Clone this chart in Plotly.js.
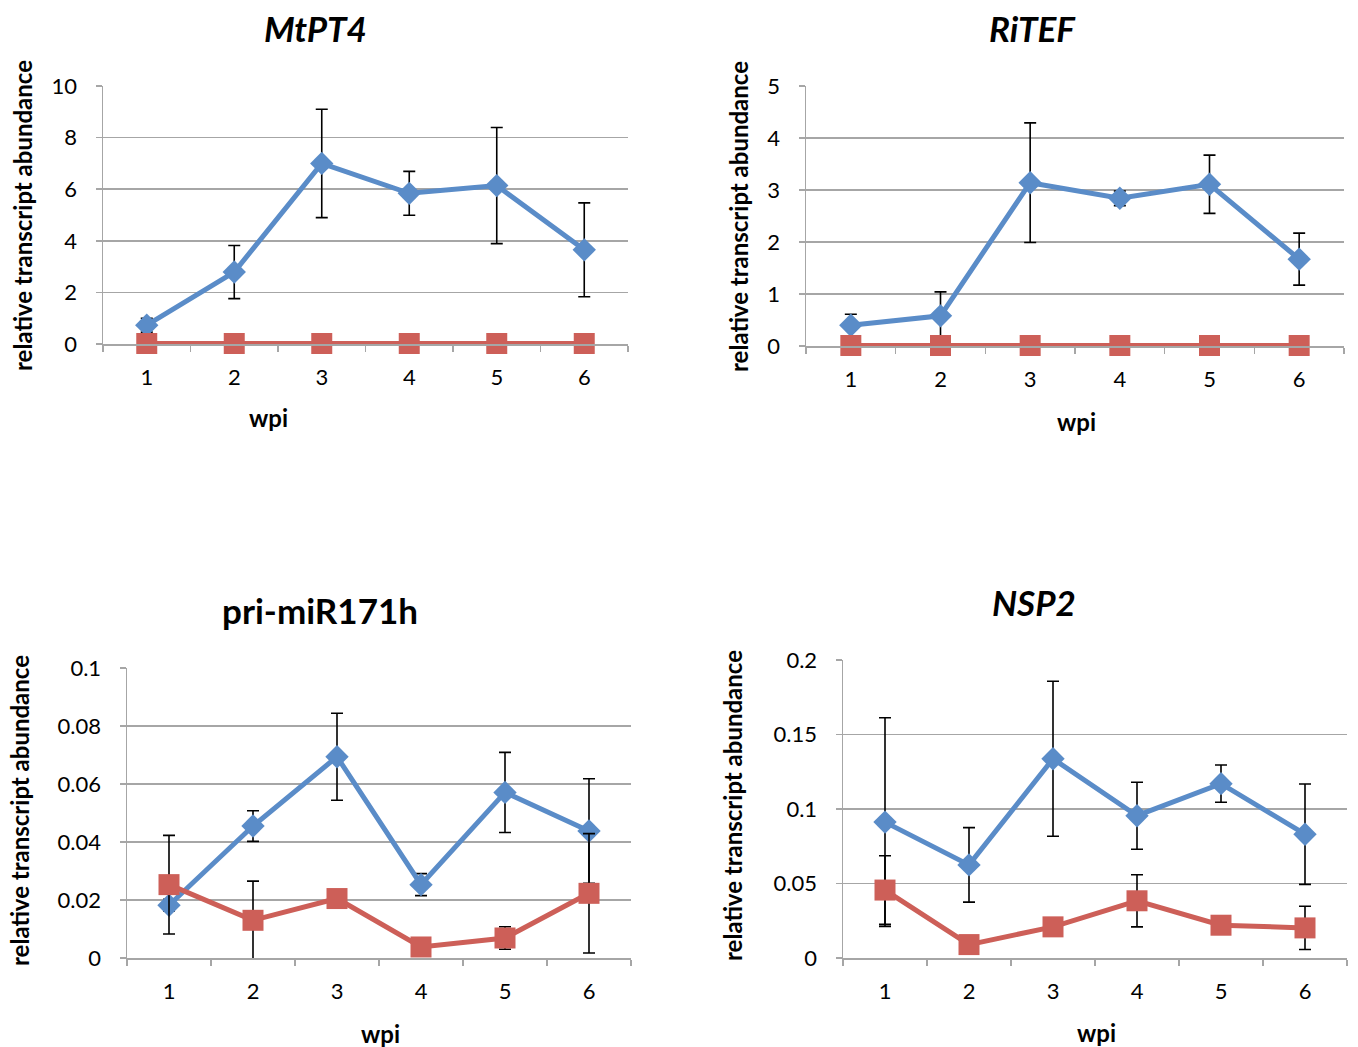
<!DOCTYPE html>
<html>
<head>
<meta charset="utf-8">
<script src="https://cdn.plot.ly/plotly-3.0.1.min.js"></script>
<style>html,body{margin:0;padding:0;background:#fff;}#chart{width:1358px;height:1047px;}</style>
</head>
<body>
<div id="chart"></div>
<script>
// ---- data ----
const weeks = ['1', '2', '3', '4', '5', '6'];

const panelTitles = ['MtPT4', 'RiTEF', 'pri-miR171h', 'NSP2'];

const mtpt4Blue = [0.73, 2.79, 7.0, 5.84, 6.14, 3.65];
const mtpt4BlueErr = [0.27, 1.03, 2.1, 0.85, 2.25, 1.82];
const mtpt4Red = [0.02, 0.02, 0.02, 0.02, 0.02, 0.02];
const mtpt4RedErr = [0, 0, 0, 0, 0, 0];

const ritefBlue = [0.40, 0.58, 3.14, 2.84, 3.11, 1.67];
const ritefBlueErr = [0.21, 0.46, 1.15, 0.14, 0.56, 0.50];
const ritefRed = [0.01, 0.01, 0.01, 0.01, 0.01, 0.01];
const ritefRedErr = [0, 0, 0, 0, 0, 0];

const mirBlue = [0.0182, 0.0455, 0.0694, 0.0253, 0.0571, 0.0438];
const mirBlueErr = [0.002, 0.0053, 0.015, 0.0038, 0.0138, 0.018];
const mirRed = [0.0253, 0.0130, 0.0205, 0.0038, 0.0069, 0.0223];
const mirRedErr = [0.017, 0.0135, 0.001, 0.001, 0.0039, 0.0206];

const nspBlue = [0.0912, 0.0625, 0.1337, 0.0955, 0.117, 0.0831];
const nspBlueErr = [0.070, 0.025, 0.052, 0.0225, 0.0125, 0.0337];
const nspRed = [0.0456, 0.009, 0.0209, 0.0384, 0.022, 0.0202];
const nspRedErr = [0.023, 0.002, 0.002, 0.0175, 0.002, 0.0145];

const yRanges = [[0, 10], [0, 5], [0, 0.1], [0, 0.2]];
const yDticks = [2, 1, 0.02, 0.05];

// ---- styling / layout ----
const W = 1358, H = 1047;
const FONT = 'Lato, "Open Sans", sans-serif';
const BLUE = '#5A8CC8';
const RED = '#CD5F58';
const GRID = '#A6A6A6';

// pixel boxes of plot areas [left, right, top, bottom]
const boxes = [
  [103, 628, 86, 344],
  [806, 1344, 86, 346],
  [127, 631, 668, 958],
  [843, 1347, 660, 958]
];
const titlePos = [[315, 28], [1032, 28], [320, 610], [1034, 602]];
const yTitlePos = [[22, 216], [738, 216], [19, 811], [732, 806]];
const xTitlePos = [[268, 417], [1076, 422], [380, 1033], [1096, 1032]];
const titleItalic = [true, true, false, true];

const series = [
  [mtpt4Blue, mtpt4BlueErr, mtpt4Red, mtpt4RedErr],
  [ritefBlue, ritefBlueErr, ritefRed, ritefRedErr],
  [mirBlue, mirBlueErr, mirRed, mirRedErr],
  [nspBlue, nspBlueErr, nspRed, nspRedErr]
];

const traces = [];
const layout = {
  width: W, height: H,
  margin: {l: 0, r: 0, t: 0, b: 0},
  paper_bgcolor: '#fff', plot_bgcolor: '#fff',
  showlegend: false,
  font: {family: FONT, color: '#000', size: 22},
  annotations: []
};

series.forEach((s, i) => {
  const n = i + 1;
  const xa = 'x' + (n === 1 ? '' : n);
  const ya = 'y' + (n === 1 ? '' : n);
  const errStyle = {color: '#000', thickness: 1.6, width: 6};
  traces.push({
    type: 'scatter', mode: 'lines+markers', x: weeks, y: s[0],
    xaxis: xa, yaxis: ya, cliponaxis: false,
    line: {color: BLUE, width: 5},
    marker: {symbol: 'diamond', size: 18, color: BLUE},
    error_y: Object.assign({type: 'data', array: s[1], visible: true}, errStyle)
  });
  traces.push({
    type: 'scatter', mode: 'lines+markers', x: weeks, y: s[2],
    xaxis: xa, yaxis: ya, cliponaxis: false,
    line: {color: RED, width: 5},
    marker: {symbol: 'square', size: 21, color: RED},
    error_y: Object.assign({type: 'data', array: s[3], visible: true}, errStyle)
  });
  const b = boxes[i];
  const xKey = 'xaxis' + (n === 1 ? '' : n);
  const yKey = 'yaxis' + (n === 1 ? '' : n);
  layout[xKey] = {
    domain: [b[0] / W, b[1] / W],
    anchor: ya,
    type: 'category',
    range: [-0.5, 5.5],
    showgrid: false, zeroline: false,
    showline: true, linecolor: GRID, linewidth: 1.5,
    ticks: 'outside', tickson: 'boundaries', ticklen: 6, tickcolor: GRID, tickwidth: 1.5,
    ticklabelstandoff: 13,
    tickfont: {family: FONT, size: 22, color: '#000'}
  };
  layout[yKey] = {
    domain: [1 - b[3] / H, 1 - b[2] / H],
    anchor: xa,
    range: yRanges[i],
    dtick: yDticks[i], tick0: 0,
    showgrid: true, gridcolor: GRID, gridwidth: 1.5,
    zeroline: false,
    showline: true, linecolor: GRID, linewidth: 1.5,
    ticks: 'outside', ticklen: 6, tickcolor: GRID, tickwidth: 1.5,
    ticklabelstandoff: 14,
    tickfont: {family: FONT, size: 22, color: '#000'}
  };
  const tp = titlePos[i];
  layout.annotations.push({
    xref: 'paper', yref: 'paper', x: tp[0] / W, y: 1 - tp[1] / H,
    xanchor: 'center', yanchor: 'middle', showarrow: false,
    text: titleItalic[i] ? '<b><i>' + panelTitles[i] + '</i></b>' : '<b>' + panelTitles[i] + '</b>',
    font: {family: FONT, size: 35, color: '#000'}
  });
  const yp = yTitlePos[i];
  layout.annotations.push({
    xref: 'paper', yref: 'paper', x: yp[0] / W, y: 1 - yp[1] / H,
    xanchor: 'center', yanchor: 'middle', showarrow: false, textangle: -90,
    text: '<b>relative transcript abundance</b>',
    font: {family: FONT, size: 24, color: '#000'}
  });
  const xp = xTitlePos[i];
  layout.annotations.push({
    xref: 'paper', yref: 'paper', x: xp[0] / W, y: 1 - xp[1] / H,
    xanchor: 'center', yanchor: 'middle', showarrow: false,
    text: '<b>wpi</b>',
    font: {family: FONT, size: 24, color: '#000'}
  });
});

Plotly.newPlot('chart', traces, layout, {staticPlot: true, displayModeBar: false});
</script>
</body>
</html>
